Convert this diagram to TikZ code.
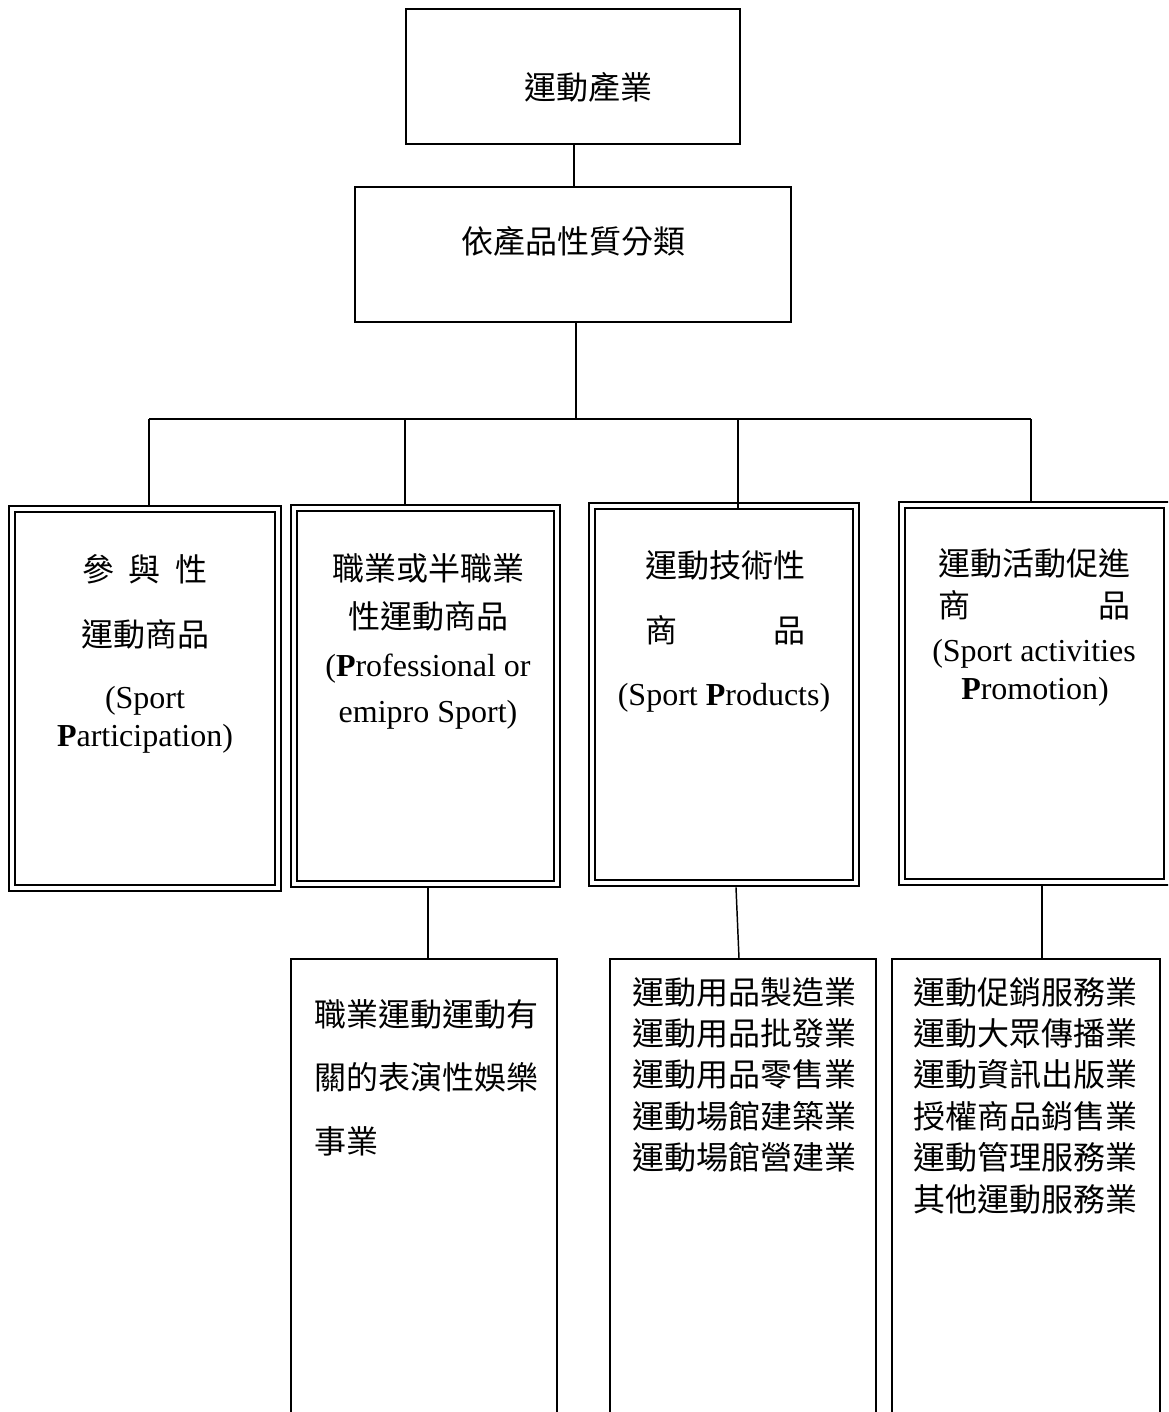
\documentclass[tikz,border=0pt]{standalone}
\usepackage{fontspec}
\setmainfont{Liberation Serif}
\newfontfamily\cjk{Noto Sans CJK TC}
\usetikzlibrary{fit}
\begin{document}
\begin{tikzpicture}[x=0.75pt,y=-0.75pt,
  box/.style={draw, line width=1.1pt, inner sep=0pt},
  dbox/.style={draw, line width=2.2pt, inner sep=0pt,
    path picture={\draw[line width=1.2pt]
      ([shift={(6,6)}]path picture bounding box.north west) rectangle
      ([shift={(-6,-6)}]path picture bounding box.south east);}},
  link/.style={line width=1.1pt},
  zh/.style={font=\cjk\fontsize{24}{29}\selectfont, inner sep=0pt},
  en/.style={font=\fontsize{24}{28}\selectfont, inner sep=0pt}]
\clip (0,0) rectangle (1168,1412);
\fill[white] (0,0) rectangle (1168,1412);

% top levels
\node[box, fit={(406,9) (740,144)}] (top) {};
\node[box, fit={(355,187) (791,322)}] (cls) {};
\node[zh, anchor=base] (tTop) at (588,100) {運動產業};
\node[zh, anchor=base] (tCls) at (573,254) {依產品性質分類};

% category boxes
\node[dbox, fit={(9,506) (281,891)}] (pA) {};
\node[dbox, fit={(291,505) (560,887)}] (pB) {};
\node[dbox, fit={(589,503) (859,886)}] (pC) {};
\node[dbox, fit={(899,502) (1170,885)}] (pD) {};

\node[zh, anchor=base] (a1) at (145,581) {參\hspace{11pt}與\hspace{11pt}性};
\node[zh, anchor=base] (a2) at (145,646) {運動商品};
\node[en, anchor=base] (a3) at (145,708) {(Sport};
\node[en, anchor=base] (a4) at (145,746) {\textbf{P}articipation)};

\node[zh, anchor=base] (b1) at (428,580) {職業或半職業};
\node[zh, anchor=base] (b2) at (428,628) {性運動商品};
\node[en, anchor=base] (b3) at (428,676) {(\textbf{P}rofessional or};
\node[en, anchor=base] (b4) at (428,722) {emipro Sport)};

\node[zh, anchor=base] (c1) at (725,577) {運動技術性};
\node[zh, anchor=base] (c2) at (725,642) {商\hspace{72pt}品};
\node[en, anchor=base] (c3) at (724,705) {(Sport \textbf{P}roducts)};

\node[zh, anchor=base] (d1) at (1034,575) {運動活動促進};
\node[zh, anchor=base] (d2) at (1034,617) {商\hspace{96pt}品};
\node[en, anchor=base] (d3) at (1034,661) {(Sport activities};
\node[en, anchor=base] (d4) at (1035,699) {\textbf{P}romotion)};

% sub-industry boxes (open at the bottom)
\node[box, fit={(291,959) (557,1430)}] (eB) {};
\node[box, fit={(610,959) (876,1430)}] (fC) {};
\node[box, fit={(892,959) (1160,1430)}] (gD) {};

\node[zh, anchor=base west] (e1) at (314,1026) {職業運動運動有};
\node[zh, anchor=base west] (e2) at (314,1089) {關的表演性娛樂};
\node[zh, anchor=base west] (e3) at (314,1153) {事業};

\foreach \t [count=\i] in {運動用品製造業,運動用品批發業,運動用品零售業,運動場館建築業,運動場館營建業}
  \node[zh, anchor=base west] (f\i) at (632,{1004+41.4*(\i-1)}) {\t};

\foreach \t [count=\i] in {運動促銷服務業,運動大眾傳播業,運動資訊出版業,授權商品銷售業,運動管理服務業,其他運動服務業}
  \node[zh, anchor=base west] (g\i) at (913,{1004+41.4*(\i-1)}) {\t};

% connectors
\draw[link] (574,0 |- top.south) -- (574,0 |- cls.north);
\coordinate (hub) at (576,419);
\draw[link] (576,0 |- cls.south) -- (hub);
\coordinate (jA) at (149,419);
\coordinate (jB) at (405,419);
\coordinate (jC) at (738,419);
\coordinate (jD) at (1031,419);
\draw[link] (jA) -- (jD);
\draw[link] (jA) -- (jA |- pA.north);
\draw[link] (jB) -- (jB |- pB.north);
\draw[link] (jC) -- ([shift={(0,6)}]jC |- pC.north);
\draw[link] (jD) -- (jD |- pD.north);

\draw[link] (428,0 |- pB.south) -- (428,0 |- eB.north);
\draw[link] (736,0 |- pC.south) -- (739,0 |- fC.north);
\draw[link] (1042,0 |- pD.south) -- (1042,0 |- gD.north);
\end{tikzpicture}
\end{document}
